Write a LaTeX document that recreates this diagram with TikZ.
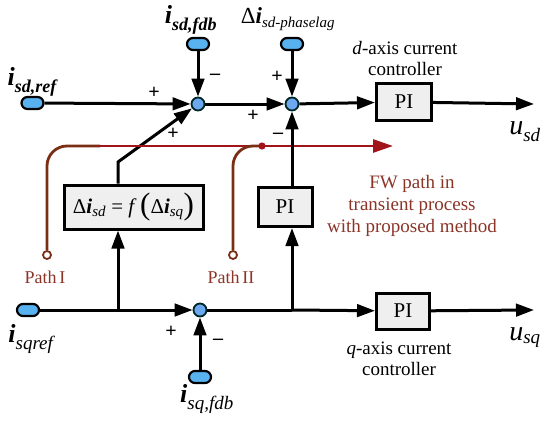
\documentclass[tikz,border=0pt]{standalone}
\usepackage{fontspec}
\setmainfont{Liberation Serif}
\usetikzlibrary{arrows.meta,calc}
\definecolor{capblue}{HTML}{58B2F0}
\definecolor{sumblue}{HTML}{6CA8F0}
\definecolor{redline}{HTML}{A0141A}
\definecolor{brownline}{HTML}{7A2E14}
\definecolor{fwtext}{HTML}{8B3428}
\definecolor{boxfill}{HTML}{EFEFEF}
\newcommand{\fs}[1]{\fontsize{#1}{#1}\selectfont}
\newcommand{\bi}[1]{\textbf{\textit{#1}}}
\tikzset{
  wire/.style={line width=3pt, black},
  arr/.style={wire, -{Triangle[length=18pt,width=12.5pt]}},
  capsule/.style={rectangle, rounded corners=6pt, fill=capblue, draw=black, line width=2.2pt, minimum width=22pt, minimum height=12pt, inner sep=0pt},
  sumc/.style={circle, fill=sumblue, draw=black!70!teal, line width=1.8pt, minimum size=13pt, inner sep=0pt},
  blockbox/.style={rectangle, draw=black, line width=3pt, fill=boxfill, minimum width=55pt, minimum height=37pt, inner sep=0pt, font=\fs{21}},
  sgn/.style={font=\bfseries\fs{20}, inner sep=0pt},
  lbl/.style={inner sep=0pt, font=\fs{19}},
  redp/.style={line width=2.8pt, draw=redline},
  brownp/.style={line width=2.8pt, draw=brownline},
  pathend/.style={circle, draw=brownline, fill=white, line width=1.8pt, minimum size=8pt, inner sep=0pt},
  fwlbl/.style={inner sep=0pt, font=\fs{19}, text=fwtext}
}
\begin{document}
\begin{tikzpicture}[x=1pt,y=-1pt]
\useasboundingbox (0,0) rectangle (550,423);
% nodes
\node[capsule] (cref) at (32.5,103) {};
\node[capsule] (cfdb) at (198,44) {};
\node[capsule] (cdel) at (292,44) {};
\node[sumc] (s1) at (198,104) {};
\node[sumc] (s2) at (292,104) {};
\node[blockbox] (pid) at (404,102) {PI};
\coordinate (usdend) at (534,104);
\node[blockbox, minimum width=139pt, minimum height=44pt] (fbox) at (133.5,207)
  {\fs{21}Δ\bi{i}\textsubscript{\textit{\fs{15}sd}} = \textit{f}\,{\fs{31}\raisebox{-1pt}{(}}Δ\bi{i}\textsubscript{\textit{\fs{15}sq}}{\fs{31}\raisebox{-1pt}{)}}};
\node[blockbox, minimum width=54pt, minimum height=39pt] (pim) at (285,207) {PI};
\node[capsule] (cqref) at (28,310) {};
\node[sumc] (s3) at (200,310) {};
\node[capsule] (cqfdb) at (200,377) {};
\node[blockbox, minimum width=53pt, minimum height=36pt] (piq) at (403,311) {PI};
\coordinate (usqend) at (534,310);
\coordinate (bend) at (118,162);
\coordinate (qbr1) at (118,310);
\coordinate (qbr2) at (292,310);
\node[pathend] (p1) at (47,255) {};
\node[pathend] (p2) at (233,255) {};
\coordinate (fwend) at (393,146);
\coordinate (jn) at (262,146);

% labels
\node[lbl] (lref) at (33,82) {{\fs{26}\bi{i}}\textsubscript{\bi{\fs{18}sd,ref}}};
\node[lbl] (lfdb) at (191,20) {{\fs{26}\bi{i}}\textsubscript{\bi{\fs{18}sd,fdb}}};
\node[lbl] (ldel) at (288,19) {{\fs{23}Δ\bi{i}}\textsubscript{\textit{\fs{15}sd-phaselag}}};
\node[lbl] (lusd) at (525,132) {{\fs{28}\textit{u}}\textsubscript{\textit{\fs{19}sd}}};
\node[lbl] (lusq) at (525,338) {{\fs{28}\textit{u}}\textsubscript{\textit{\fs{19}sq}}};
\node[lbl] (lqref) at (32,339) {{\fs{26}\bi{i}}\textsubscript{\textit{\fs{19}sqref}}};
\node[lbl] (lqfdb) at (207,399) {{\fs{26}\bi{i}}\textsubscript{\textit{\fs{19}sq,fdb}}};
\node[lbl, align=center] (ldc) at (405,59) {\textit{d}-axis current\\[2pt]controller};
\node[lbl, align=center] (lqc) at (399,359) {\textit{q}-axis current\\[2pt]controller};
\node[fwlbl, align=center] (lfw) at (412,206) {FW path in\\[3pt]transient process\\[3pt]with proposed method};
\node[fwlbl, font=\fs{18}] (lp1) at (45,277) {Path\,I};
\node[fwlbl, font=\fs{18}] (lp2) at (231,277) {Path\,II};

% signs
\node[sgn] at (154,93) {+};
\node[sgn] at (215,77) {–};
\node[sgn] at (173,134) {+};
\node[sgn] at (253,116) {+};
\node[sgn] at (277,77) {+};
\node[sgn] at (278,136) {–};
\node[sgn] at (171,332) {+};
\node[sgn] at (218,342) {–};

% black wires
\draw[arr] (cref) -- (s1);
\draw[arr] (cfdb) -- (s1);
\draw[arr] (s1) -- (s2);
\draw[arr] (cdel) -- (s2);
\draw[arr] (s2) -- (pid);
\draw[arr] (pid) -- (usdend);
\draw[arr] (fbox.north -| bend) -- (bend) -- (s1);

% red FW path
\draw[brownp, rounded corners=20pt] (p1.north) -- (47,146) -- (100,146);
\draw[redp, -{Triangle[length=20pt,width=13pt]}] (98,146) -- (fwend);
\draw[brownp, rounded corners=20pt] (p2.north) -- (233,146) -- (jn);
\fill[redline] (jn) circle (3.6pt);

\draw[arr] (pim.north -| s2) -- (s2);
\draw[wire] (cqref) -- (qbr1);
\draw[arr] (qbr1) -- (s3);
\draw[arr] (qbr1) -- (fbox.south -| qbr1);
\draw[arr] (cqfdb) -- (s3);
\draw[wire] (s3) -- (qbr2);
\draw[arr] (qbr2) -- (piq);
\draw[arr] (qbr2) -- (pim.south -| qbr2);
\draw[arr] (piq) -- (usqend);
\end{tikzpicture}
\end{document}
